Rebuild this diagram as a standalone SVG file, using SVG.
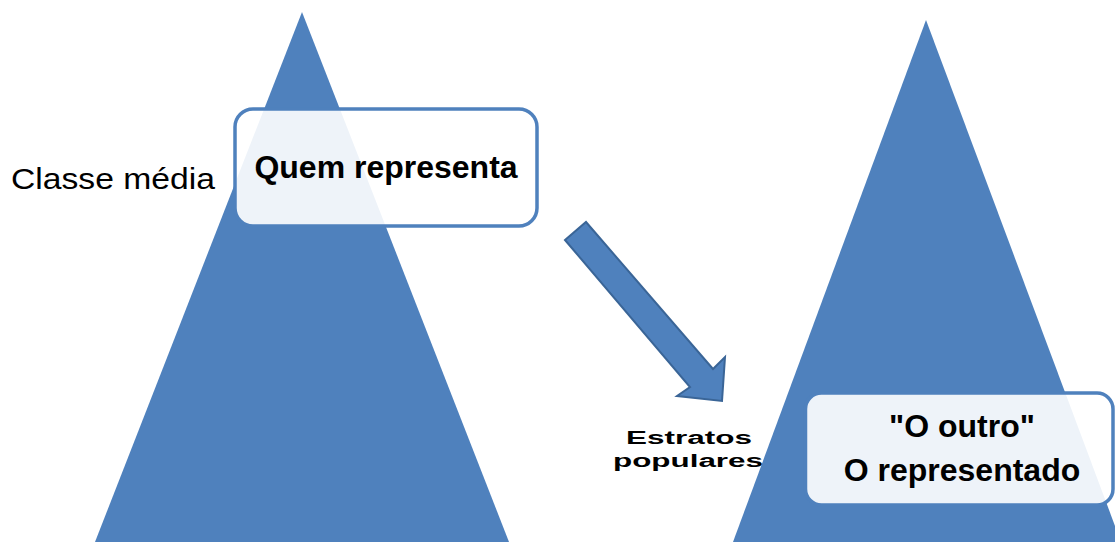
<svg xmlns="http://www.w3.org/2000/svg" width="1115" height="542" viewBox="0 0 1115 542">
<style>
.tri{fill:#4f81bd;}
.box{fill:#ffffff;fill-opacity:0.9;stroke:#4f81bd;stroke-width:3.5;}
.big{font-family:"Liberation Sans",Arial,sans-serif;font-weight:bold;font-size:32px;fill:#000;text-anchor:middle;}
.side{font-family:"Liberation Sans",Arial,sans-serif;font-size:30px;fill:#000;}
.small{font-family:"Liberation Sans",Arial,sans-serif;font-weight:bold;font-size:18px;fill:#000;}
</style>
<rect width="1115" height="542" fill="#fff"/>
<g id="left-pyramid">
<polygon class="tri" points="302,12 509,542 95,542"/>
</g>
<g id="right-pyramid">
<polygon class="tri" points="926,20 1121,542 733,542"/>
</g>
<g id="label-classe-media">
<text class="side" x="11" y="189" textLength="204" lengthAdjust="spacingAndGlyphs">Classe média</text>
</g>
<g id="box-quem-representa">
<rect class="box" x="235" y="109" width="302" height="117" rx="18"/>
<text class="big" x="386" y="178">Quem representa</text>
</g>
<g id="connectors">
<polygon points="565,240 586,222 713,369 725,357 722,401 677,396 690,387" fill="#4f81bd" stroke="#3a6597" stroke-width="2" stroke-linejoin="miter"/>
</g>
<g id="label-estratos">
<text class="small" x="626" y="444" textLength="126" lengthAdjust="spacingAndGlyphs">Estratos</text>
<text class="small" x="613" y="467" textLength="150" lengthAdjust="spacingAndGlyphs">populares</text>
</g>
<g id="box-o-outro">
<rect class="box" x="805.5" y="393" width="307.5" height="112" rx="16"/>
<text class="big" x="962" y="437">"O outro"</text>
<text class="big" x="962" y="481">O representado</text>
</g>
</svg>
